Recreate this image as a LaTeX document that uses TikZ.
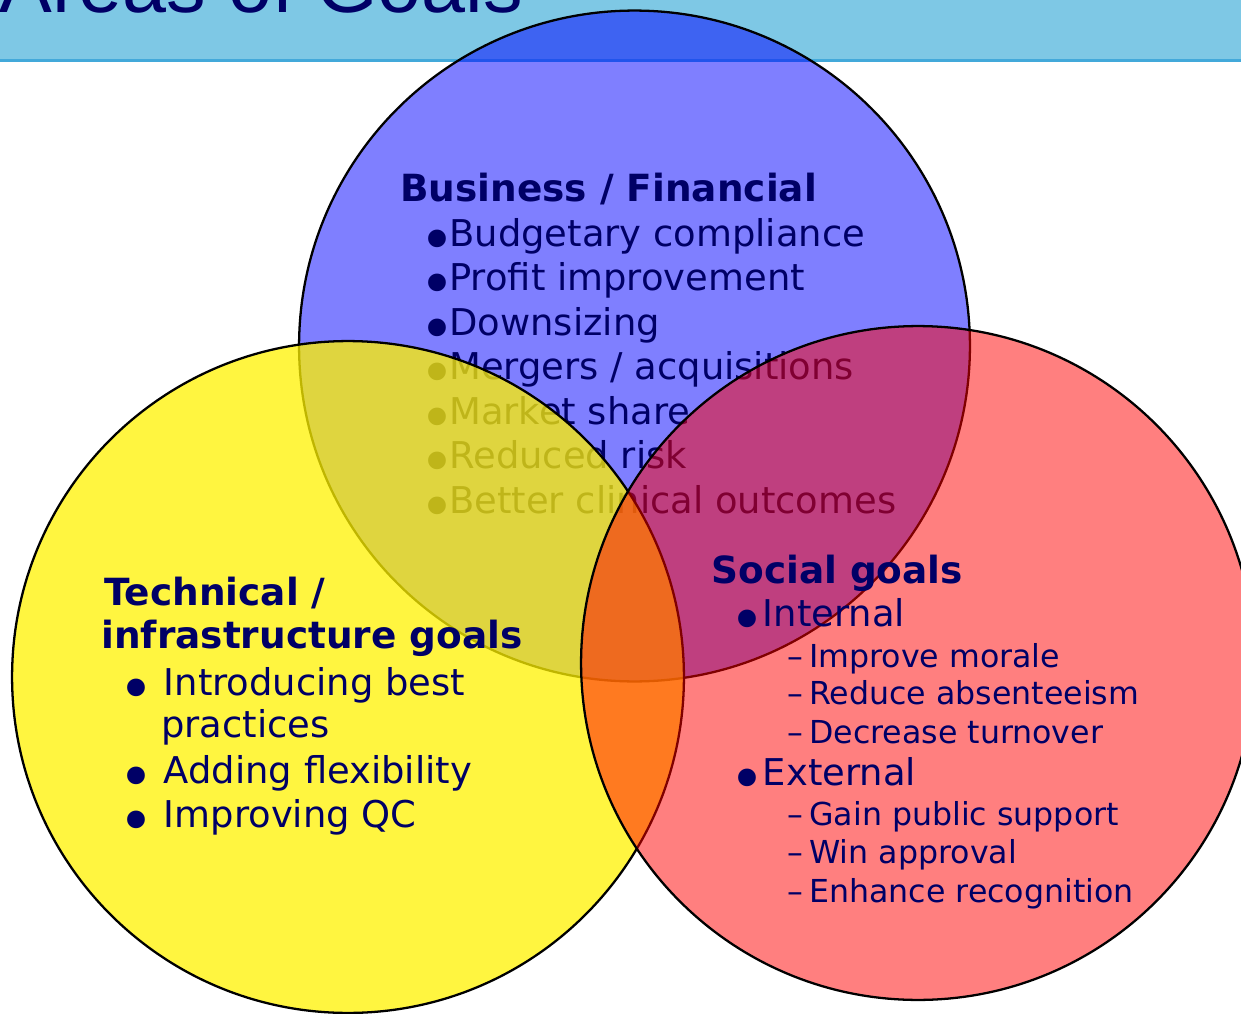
\documentclass[tikz,border=0pt]{standalone}
\usepackage{fontspec}
\setmainfont{DejaVu Sans}
\newfontfamily\titlefont{Liberation Sans}
\usepackage{xcolor}
\usepackage{graphicx}
\definecolor{navy}{HTML}{000066}
\definecolor{bandblue}{HTML}{7EC8E5}
\definecolor{bandline}{HTML}{43A9DA}
\newcommand{\leadbox}[2]{\makebox[#1][l]{#2}}
\newcommand{\bigdot}{\makebox[0pt][l]{\raisebox{-0.41em}{\scalebox{1.65}{•}}}}
\tikzset{
	goal/.style={draw=black, line width=1.3pt},
	slidetitle/.style={anchor=base east, inner sep=0pt, text=navy, font=\titlefont\fontsize{45}{54}\selectfont},
	goalhead/.style={anchor=base west, inner sep=0pt, text=navy, font=\fontsize{21.3}{25}\selectfont\bfseries},
	goalitem/.style={anchor=base west, inner sep=0pt, text=navy, font=\fontsize{21}{25}\selectfont},
	subgoal/.style={anchor=base west, inner sep=0pt, text=navy, font=\fontsize{18}{21}\selectfont}
}
\begin{document}
\begin{tikzpicture}[x=0.02cm, y=-0.02cm]
        \useasboundingbox (0, 0) rectangle (1241, 1014);
        \fill[bandblue] (0, 0) rectangle (1241, 59);
        \fill[bandline] (0, 59) rectangle (1241, 61.5);
        \node[slidetitle] (title) at (523, 12) {Areas of Goals};
        \coordinate (c_B) at (634.5, 346);
        \coordinate (c_T) at (348, 677);
        \coordinate (c_S) at (918, 663);
        \filldraw[goal, fill=blue, fill opacity=0.5] (c_B) circle (6.71cm);
        \node[goalhead] (b_head) at (400, 201.5) {Business / Financial};
        \node[goalitem] (b_1) at (419, 246) {\leadbox{0.6cm}{\bigdot}Budgetary compliance};
        \node[goalitem] (b_2) at (419, 290.5) {\leadbox{0.6cm}{\bigdot}Profit improvement};
        \node[goalitem] (b_3) at (419, 335) {\leadbox{0.6cm}{\bigdot}Downsizing};
        \node[goalitem] (b_4) at (419, 379.5) {\leadbox{0.6cm}{\bigdot}Mergers / acquisitions};
        \node[goalitem] (b_5) at (419, 424) {\leadbox{0.6cm}{\bigdot}Market share};
        \node[goalitem] (b_6) at (419, 468.5) {\leadbox{0.6cm}{\bigdot}Reduced risk};
        \node[goalitem] (b_7) at (419, 513) {\leadbox{0.6cm}{\bigdot}Better clinical outcomes};
        \filldraw[goal, fill=yellow, fill opacity=0.75] (c_T) circle (6.72cm);
        \node[goalhead] (t_head_1) at (104, 605) {Technical /};
        \node[goalhead] (t_head_2) at (101, 648) {infrastructure goals};
        \node[goalitem] (t_1) at (118, 695) {\leadbox{0.91cm}{\bigdot}Introducing best};
        \node[goalitem] (t_1b) at (161, 737) {practices};
        \node[goalitem] (t_2) at (118, 783) {\leadbox{0.91cm}{\bigdot}Adding flexibility};
        \node[goalitem] (t_3) at (118, 827) {\leadbox{0.91cm}{\bigdot}Improving QC};
        \filldraw[goal, fill=red, fill opacity=0.5] (c_S) circle (6.74cm);
        \node[goalhead] (s_head) at (711, 583) {Social goals};
        \node[goalitem] (s_int) at (729, 626) {\leadbox{0.67cm}{\bigdot}Internal};
        \node[subgoal] (s_int_1) at (787, 667) {\leadbox{0.44cm}{–}Improve morale};
        \node[subgoal] (s_int_2) at (787, 704) {\leadbox{0.44cm}{–}Reduce absenteeism};
        \node[subgoal] (s_int_3) at (787, 743) {\leadbox{0.44cm}{–}Decrease turnover};
        \node[goalitem] (s_ext) at (729, 785) {\leadbox{0.67cm}{\bigdot}External};
        \node[subgoal] (s_ext_1) at (787, 825) {\leadbox{0.44cm}{–}Gain public support};
        \node[subgoal] (s_ext_2) at (787, 863) {\leadbox{0.44cm}{–}Win approval};
        \node[subgoal] (s_ext_3) at (787, 902) {\leadbox{0.44cm}{–}Enhance recognition};
    \end{tikzpicture}
\end{document}
